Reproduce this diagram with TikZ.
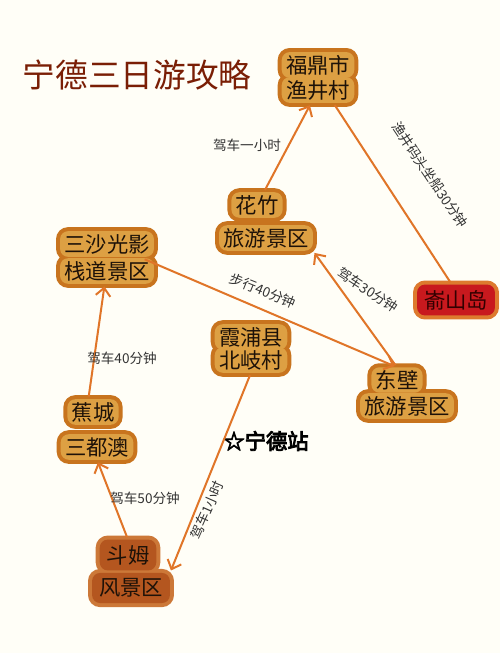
\documentclass[tikz,border=0pt]{standalone}
\usepackage{fontspec}
\usetikzlibrary{arrows.meta,backgrounds}
\newfontfamily\cjk{Noto Sans CJK SC}
\newfontfamily\cjkb[FakeBold=4]{Noto Sans CJK SC}
\definecolor{bgc}{HTML}{FFFEF7}
\definecolor{blobfill}{HTML}{DDA043}
\definecolor{blobedge}{HTML}{C8741E}
\definecolor{rustfill}{HTML}{B4561F}
\definecolor{rustedge}{HTML}{CC7838}
\definecolor{redfill}{HTML}{C8191E}
\definecolor{rededge}{HTML}{DD7A2E}
\definecolor{textdark}{HTML}{1E1208}
\definecolor{titlec}{HTML}{7A1E05}
\definecolor{linkc}{HTML}{E07528}
\begin{document}
\begin{tikzpicture}[x=0.75pt,y=-0.75pt,
  place/.style={inner xsep=3pt, inner ysep=2pt, text=textdark, font=\cjk\fontsize{16}{18}\selectfont},
  bigplace/.style={place, inner xsep=5pt, inner ysep=4pt},
  lab/.style={font=\cjk\fontsize{10.2}{11}\selectfont, text=black!80, inner sep=1pt},
  link/.style={draw=linkc, line width=1.5pt, shorten <=2pt, shorten >=2pt},
  arr/.style={link, -{Straight Barb[length=6pt,width=11pt]}},
  rim/.style={line width=6pt, rounded corners=6pt},
  core/.style={rounded corners=6pt},
]
\useasboundingbox (0,0) rectangle (500,653);

% title
\node[font=\cjk\fontsize{24.5}{26}\selectfont, text=titlec] (title) at (137,75) {宁德三日游攻略};

% places
\node[place] (fd1) at (318,65) {福鼎市};
\node[place] (fd2) at (318,90) {渔井村};
\node[place] (hz1) at (257,205) {花竹};
\node[place] (hz2) at (266,238) {旅游景区};
\node[place] (ss1) at (107,244) {三沙光影};
\node[place] (ss2) at (107,271) {栈道景区};
\node[place] (xp1) at (251,337) {霞浦县};
\node[place] (xp2) at (251,360) {北岐村};
\node[place] (db1) at (397,380) {东壁};
\node[place] (db2) at (407,406) {旅游景区};
\node[place] (jc1) at (93,412) {蕉城};
\node[place] (jc2) at (97,447) {三都澳};
\node[bigplace] (dm1) at (128,555) {斗姆};
\node[bigplace] (dm2) at (131,588) {风景区};
\node[bigplace, text=black!80!red] (ys) at (456,300) {嵛山岛};

\node[font=\cjkb\fontsize{16}{18}\selectfont, text=black] (ndz) at (266,441) {☆宁德站};

% blob backgrounds
\begin{scope}[on background layer]
  \fill[bgc] (0,0) rectangle (500,653);
  \foreach \n in {fd1,fd2,hz1,hz2,ss1,ss2,xp1,xp2,db1,db2,jc1,jc2}
    \draw[blobedge, rim] (\n.south west) rectangle (\n.north east);
  \foreach \n in {dm1,dm2}
    \draw[rustedge, rim] (\n.south west) rectangle (\n.north east);
  \draw[rededge, rim] (ys.south west) rectangle (ys.north east);
  \foreach \n in {fd1,fd2,hz1,hz2,ss1,ss2,xp1,xp2,db1,db2,jc1,jc2}
    \fill[blobfill, core] (\n.south west) rectangle (\n.north east);
  \foreach \n in {dm1,dm2}
    \fill[rustfill, core] (\n.south west) rectangle (\n.north east);
  \fill[redfill, core] (ys.south west) rectangle (ys.north east);
\end{scope}

% connectors
\draw[arr] (hz1) -- (fd2);
\draw[link] (fd2.-40) -- (ys.105);
\draw[arr] (ss2.20) -- (db1.north);
\draw[arr] (db1.north) -- (hz2.south east);
\draw[arr] (jc1.110) -- (ss2.260);
\draw[arr] (dm1.north) -- (jc2.south);
\draw[arr] (xp2.south) -- (dm2.north east);

% labels
\node[lab] (l1) at (247,145) {驾车一小时};
\node[lab, rotate=-56] (l2) at (430,175) {渔井码头坐船30分钟};
\node[lab, rotate=-22] (l3) at (263,291) {步行40分钟};
\node[lab, rotate=-33] (l4) at (368,290) {驾车30分钟};
\node[lab] (l5) at (122,358) {驾车40分钟};
\node[lab] (l6) at (145,498) {驾车50分钟};
\node[lab, rotate=66] (l7) at (207,510) {驾车1小时};
\end{tikzpicture}
\end{document}
